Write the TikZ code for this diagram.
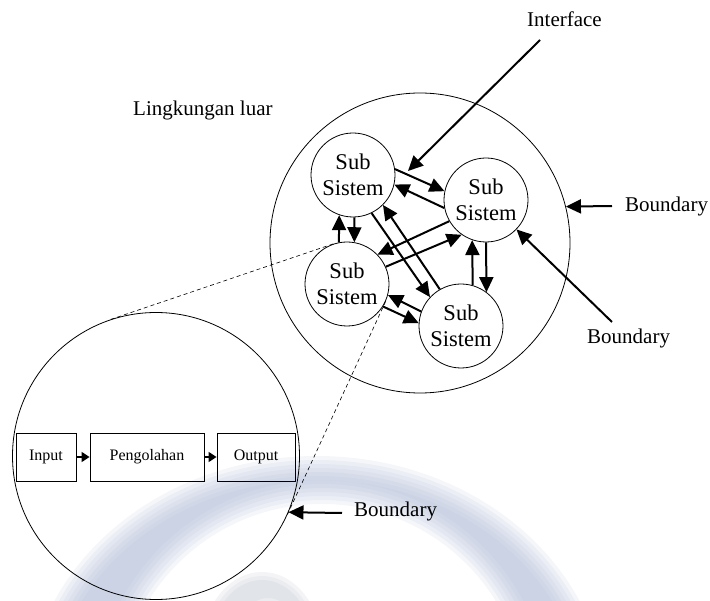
\documentclass[tikz,border=0pt]{standalone}
\usepackage{fontspec}
\setmainfont{Liberation Serif}
\usetikzlibrary{arrows.meta}
\definecolor{wmblue}{RGB}{168,180,210}
\definecolor{wmgray}{RGB}{178,184,198}
\begin{document}
\begin{tikzpicture}[x=1pt,y=-1pt,
  txt/.style={font=\fontsize{21}{25}\selectfont, inner sep=0pt},
  sub/.style={circle, draw, line width=0.8pt, minimum size=84pt, inner sep=0pt,
    align=center, font=\fontsize{22.5}{25.5}\selectfont},
  ring/.style={circle, draw, line width=0.8pt, inner sep=0pt},
  flow/.style={draw, line width=0.9pt, minimum height=48pt, inner sep=0pt,
    font=\fontsize{16}{18}\selectfont},
  link/.style={line width=2pt, -{Triangle[length=15pt,width=14pt]}},
  small/.style={line width=1.5pt, -{Triangle[length=8pt,width=10pt]}},
  zoomline/.style={line width=0.6pt, dash pattern=on 4pt off 3pt}]

\useasboundingbox (0,0) rectangle (710,601);

% faint logo ring in the background
\begin{scope}
  \clip (0,0) rectangle (710,601);
  \foreach \ox/\oy/\ir in {290/252/204, 286/248/208, 282/244/212, 278/240/216,
                           274/236/220, 270/232/224, 266/228/228} {
    \fill[wmblue, opacity=0.12, even odd rule]
      (317,708) ellipse [x radius=\ox pt, y radius=\oy pt]
      (322,708) ellipse [x radius=\ir pt, y radius=\ir pt];
  }
  \foreach \ox/\oy/\ix/\iy in {60/76/28/46, 56/72/32/50, 52/68/36/54} {
    \fill[wmgray, opacity=0.15, even odd rule]
      (262,648) ellipse [x radius=\ox pt, y radius=\oy pt]
      (268,652) ellipse [x radius=\ix pt, y radius=\iy pt];
  }
\end{scope}

% system boundary and the enlarged subsystem
\node[ring, minimum size=300pt] (outer) at (420,243) {};
\node[ring, minimum size=287pt] (detail) at (156,456) {};

% subsystems
\node[sub] (tl) at (353,175) {Sub\\Sistem};
\node[sub] (tr) at (486,200) {Sub\\Sistem};
\node[sub] (ml) at (347,284) {Sub\\Sistem};
\node[sub] (br) at (461,326) {Sub\\Sistem};

% interactions between subsystems
\draw[link] (tl.8) -- (tr.168);
\draw[link] (tr.191) -- (tl.-13);
\draw[link] (ml.101) -- (tl.-109.5);
\draw[link] (tl.-88.6) -- (ml.80.4);
\draw[link] (tl.-64.6) -- (br.137.6);
\draw[link] (br.120) -- (tl.-45);
\draw[link] (tr.210) -- (ml.44);
\draw[link] (ml.24) -- (tr.235);
\draw[link] (br.74.8) -- (tr.-109.5);
\draw[link] (tr.-90) -- (br.53.5);
\draw[link] (br.160) -- (ml.-15);
\draw[link] (ml.-32.6) -- (br.176);

% zoom lines to the enlarged subsystem
\draw[zoomline] (ml.109) -- (detail.109);
\draw[zoomline] (ml.-24.5) -- (detail.-24.5);

% labels
\node[txt, anchor=base west] (env) at (133,116) {Lingkungan luar};
\node[txt, anchor=base west] (iface) at (527,27) {Interface};
\node[txt, anchor=base west] (bnd1) at (625,212) {Boundary};
\node[txt, anchor=base west] (bnd2) at (587,344) {Boundary};
\node[txt, anchor=base west] (bnd3) at (354,517) {Boundary};

% label pointers
\coordinate (ifacetail) at (540,40);
\coordinate (ifacetip) at (408,171);
\draw[link] (ifacetail) -- (ifacetip);
\coordinate (bnd1tail) at (612,206);
\draw[link] (bnd1tail) -- (outer.14.3);
\coordinate (bnd2tail) at (612,322);
\draw[link] (bnd2tail) -- (tr.-44);
\coordinate (bnd3tail) at (342,513);
\draw[link] (bnd3tail) -- (detail.-23.4);

% inside the enlarged subsystem
\node[flow, minimum width=60pt] (inp) at (46,457) {Input};
\node[flow, minimum width=114pt] (proc) at (147,457) {Pengolahan};
\node[flow, minimum width=78pt] (outp) at (256,457) {Output};
\draw[small] (inp) -- (proc);
\draw[small] (proc) -- (outp);
\end{tikzpicture}
\end{document}
